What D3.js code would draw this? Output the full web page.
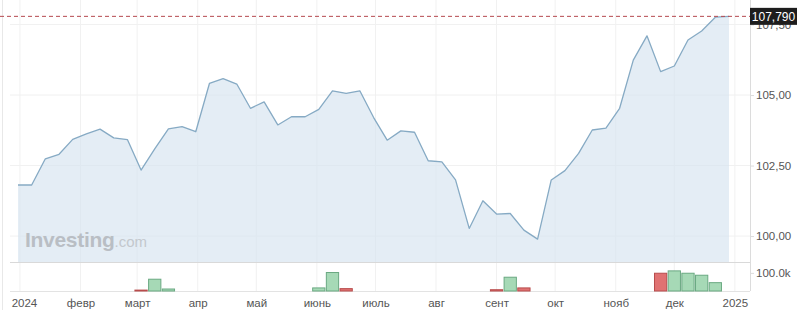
<!DOCTYPE html>
<html>
<head>
<meta charset="utf-8">
<script src="https://cdn.jsdelivr.net/npm/d3@7"></script>
<style>
  body { margin: 0; background: #fff; }
  svg { display: block; font-family: "Liberation Sans", Arial, sans-serif; }
</style>
</head>
<body>
<svg width="800" height="310"></svg>
<script>
// weekly closes, weeks starting Sunday 31 Dec 2023
const prices = [101.81, 101.81, 102.74, 102.90, 103.43, 103.62, 103.79, 103.48, 103.42, 102.34,
                103.09, 103.80, 103.88, 103.70, 105.41, 105.58, 105.39, 104.53, 104.76, 103.94,
                104.23, 104.23, 104.49, 105.15, 105.06, 105.15, 104.21, 103.40, 103.73, 103.68,
                102.67, 102.63, 101.99, 100.27, 101.25, 100.78, 100.80, 100.21, 99.89, 101.99,
                102.32, 102.93, 103.76, 103.83, 104.53, 106.24, 107.10, 105.83, 106.03, 106.95,
                107.27, 107.76, 107.79]
const volumes = [0, 0, 0, 0, 0, 0, 0, 0, 0, 5000,
                 65000, 11000, 0, 0, 0, 0, 0, 0, 0, 0,
                 0, 0, 17000, 102000, 13000, 0, 0, 0, 0, 0,
                 0, 0, 0, 0, 0, 7000, 76000, 17000, 0, 0,
                 0, 0, 0, 0, 0, 0, 0, 98000, 111000, 98000,
                 87000, 46000, 0]
const monthTicks = [new Date(2024,0,1), new Date(2024,1,1), new Date(2024,2,1), new Date(2024,3,1),
                    new Date(2024,4,1), new Date(2024,5,1), new Date(2024,6,1), new Date(2024,7,1),
                    new Date(2024,8,1), new Date(2024,9,1), new Date(2024,10,1), new Date(2024,11,1),
                    new Date(2025,0,1)]
const monthLabels = ["2024", "февр", "март", "апр", "май", "июнь", "июль", "авг", "сент", "окт", "нояб", "дек", "2025"]
const priceTicks = [100, 102.5, 105, 107.5]
const volumeTicks = [100000]

const weeks = d3.timeWeek.range(new Date(2023,11,31), new Date(2025,0,1))
const data = prices.map((p, i) => ({date: weeks[i], close: p, volume: volumes[i], up: i === 0 || p >= prices[i-1]}))
const last = data[data.length - 1]

const svg = d3.select("svg")
const axisX = 750, mainBottom = 262, volBottom = 291

const x = d3.scaleTime().domain([weeks[0], weeks[weeks.length-1]]).range([18, 729]),
      y = d3.scaleLinear().domain([99.08, 108.37]).range([mainBottom, 0]),
      yVol = d3.scaleLinear().domain([0, 160000]).range([volBottom, mainBottom])

const ru = d3.formatLocale({decimal: ",", thousands: " ", grouping: [3], currency: ["", ""]})

// left border
svg.append("line").attr("x1", 2.5).attr("x2", 2.5).attr("y1", 0).attr("y2", 310).style("stroke", "#e8e8e8")

// grid
svg.append("g").selectAll("line")
  .data(monthTicks)
  .enter().append("line")
    .attr("x1", d => x(d)).attr("x2", d => x(d))
    .attr("y1", 0).attr("y2", volBottom)
    .style("stroke", "#f1f1f1")

svg.append("g").selectAll("line")
  .data(priceTicks)
  .enter().append("line")
    .attr("x1", 10).attr("x2", axisX)
    .attr("y1", d => y(d)).attr("y2", d => y(d))
    .style("stroke", "#f1f1f1")

// price area + line
const area = d3.area().x(d => x(d.date)).y0(mainBottom).y1(d => y(d.close))
const line = d3.line().x(d => x(d.date)).y(d => y(d.close))

svg.append("path").attr("d", area(data)).style("fill", "#d5e3f0").style("opacity", 0.65)
svg.append("path").attr("d", line(data))
  .style("fill", "none").style("stroke", "#86aac4").style("stroke-width", 1.3).style("stroke-linejoin", "round")

// watermark
const wm = svg.append("text").attr("x", 25).attr("y", 246.5)
wm.append("tspan").text("Investing").style("font-size", "21px").style("font-weight", "bold").style("fill", "#b9bec4").style("letter-spacing", "-0.3px")
wm.append("tspan").text(".com").style("font-size", "15px").style("fill", "#c3c8cd")

// panel separators
svg.append("line").attr("x1", 10).attr("x2", axisX).attr("y1", mainBottom + 0.5).attr("y2", mainBottom + 0.5).style("stroke", "#d9d9d9")
svg.append("line").attr("x1", 10).attr("x2", axisX).attr("y1", volBottom + 0.5).attr("y2", volBottom + 0.5).style("stroke", "#e3e3e3")
svg.append("line").attr("x1", axisX + 0.5).attr("x2", axisX + 0.5).attr("y1", 0).attr("y2", volBottom).style("stroke", "#dcdcdc")

// volume bars
const barW = x(weeks[1]) - x(weeks[0]) - 1.4
svg.append("g").selectAll("rect")
  .data(data.filter(d => d.volume > 0))
  .enter().append("rect")
    .attr("x", d => x(d.date) - barW / 2)
    .attr("y", d => yVol(d.volume))
    .attr("width", barW)
    .attr("height", d => volBottom - yVol(d.volume))
    .style("fill", d => d.up ? "#a6d9b6" : "#e07272")
    .style("stroke", d => d.up ? "#6aa982" : "#b84c4c")
    .style("stroke-width", 1)

// right axes
const yAxis = svg.append("g")
  .attr("transform", "translate(" + axisX + ",0)")
  .call(d3.axisRight(y).tickValues(priceTicks).tickSize(4).tickPadding(2).tickFormat(ru.format(".2f")))
const volAxis = svg.append("g")
  .attr("transform", "translate(" + axisX + ",0)")
  .call(d3.axisRight(yVol).tickValues(volumeTicks).tickSize(4).tickPadding(2).tickFormat(d => (d / 1000).toFixed(1) + "k"))

// x axis
const xAxis = svg.append("g")
  .attr("transform", "translate(0," + volBottom + ")")
  .call(d3.axisBottom(x).tickValues(monthTicks).tickSize(0).tickPadding(8).tickFormat((d, i) => monthLabels[i]))
xAxis.selectAll(".tick").filter((d, i) => i === 0).select("text").attr("dx", 4)

for (const a of [yAxis, volAxis, xAxis]) {
  a.select(".domain").remove()
  a.selectAll(".tick line").style("stroke", "#dcdcdc")
  a.selectAll("text").style("fill", "#555").style("font-size", "11.5px").style("font-family", "'Liberation Sans', Arial, sans-serif")
}

// last price marker
svg.append("line")
  .attr("x1", 0).attr("x2", axisX)
  .attr("y1", y(last.close)).attr("y2", y(last.close))
  .style("stroke", "#b5484f").style("stroke-dasharray", "4,3").style("stroke-width", 1)
svg.append("rect")
  .attr("x", axisX).attr("y", y(last.close) - 8.5).attr("width", 47).attr("height", 17)
  .style("fill", "#1d1d1d")
svg.append("text")
  .attr("x", axisX + 23.5).attr("y", y(last.close)).attr("dy", "0.35em")
  .attr("text-anchor", "middle")
  .style("fill", "#fff").style("font-size", "12px")
  .text(ru.format(".3f")(last.close))
</script>
</body>
</html>
